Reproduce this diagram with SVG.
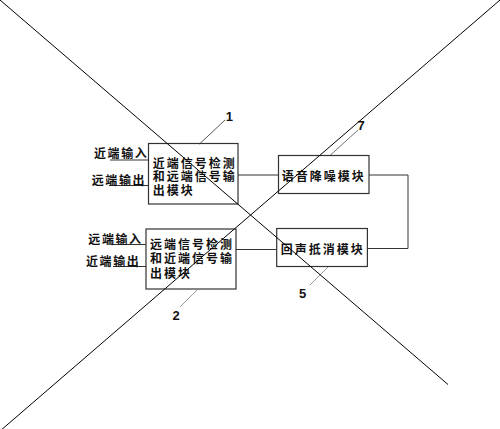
<svg xmlns="http://www.w3.org/2000/svg" width="500" height="429" viewBox="0 0 500 429">
<style>
.box{fill:none;stroke:#333;stroke-width:1.2}
.cn{fill:none;stroke:#333;stroke-width:1}
.t{font-family:"Noto Sans CJK SC","Noto Sans",sans-serif;font-size:12px;font-weight:bold;fill:#111;letter-spacing:2px}
.lb{font-family:"Noto Sans CJK SC","Noto Sans",sans-serif;font-size:12px;font-weight:bold;fill:#111;letter-spacing:1.6px}
.num{font-family:"Liberation Sans",Arial,sans-serif;font-size:13px;font-weight:bold;fill:#111;text-anchor:middle}
.x{stroke:#000;stroke-width:1}
</style>
<rect width="500" height="429" fill="#fff"/>
<g id="connectors">
<line class="cn" x1="238" y1="175" x2="278.5" y2="175"/>
<line class="cn" x1="236" y1="249.5" x2="276.5" y2="249.5"/>
<polyline class="cn" points="369,175 408,175 408,248.5 367.5,248.5"/>
<line class="cn" x1="110" y1="160" x2="148.5" y2="160"/>
<line class="cn" x1="109" y1="185.5" x2="148.5" y2="185.5"/>
<line class="cn" x1="113" y1="244.5" x2="146" y2="244.5"/>
<line class="cn" x1="113" y1="266.5" x2="146" y2="266.5"/>
<line stroke="#555" x1="199.5" y1="144" x2="225" y2="120"/>
<line stroke="#777" x1="330" y1="155.5" x2="358" y2="130"/>
<line stroke="#999" x1="197" y1="290" x2="180" y2="307"/>
<line stroke="#999" x1="328" y1="267" x2="310" y2="285"/>
</g>
<g id="inputs">
<text class="lb" x="94" y="158">近端输入</text>
<text class="lb" x="91.7" y="184.5">远端输出</text>
<text class="lb" x="88.3" y="243.8">远端输入</text>
<text class="lb" x="86" y="266">近端输出</text>
</g>
<g id="node1">
<rect class="box" x="148.5" y="143.5" width="89.5" height="60.5"/>
<text class="t" x="152.7" y="168.2">近端信号检测<tspan x="152.7" y="181.3">和远端信号输</tspan><tspan x="152.7" y="194.5">出模块</tspan></text>
<text class="num" x="229.3" y="121">1</text>
</g>
<g id="node2">
<rect class="box" x="146" y="229" width="90" height="60"/>
<text class="t" x="150" y="249.2">远端信号检测<tspan x="150" y="263.2">和近端信号输</tspan><tspan x="150" y="277.8">出模块</tspan></text>
<text class="num" x="176" y="320">2</text>
</g>
<g id="node7">
<rect class="box" x="278.5" y="155.5" width="90.5" height="38"/>
<text class="t" x="281.7" y="180.5">语音降噪模块</text>
<text class="num" x="361" y="130">7</text>
</g>
<g id="node5">
<rect class="box" x="276.7" y="228.5" width="90.7" height="38"/>
<text class="t" x="280.7" y="253.8">回声抵消模块</text>
<text class="num" x="302.7" y="297.5">5</text>
</g>
<g id="cross">
<line class="x" x1="0" y1="0" x2="448" y2="384.5"/>
<line class="x" x1="500" y1="0" x2="0" y2="431"/>
</g>
</svg>
